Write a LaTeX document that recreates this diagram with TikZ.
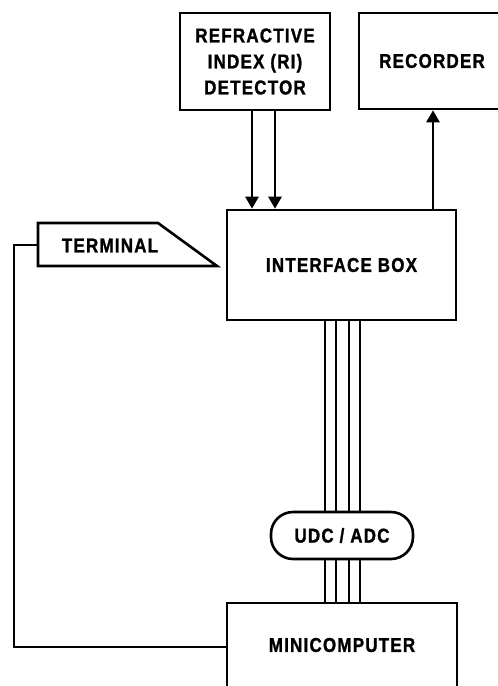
\documentclass[tikz,border=0pt]{standalone}
\usepackage{fontspec}
\newfontfamily\lab{Liberation Sans}[FakeStretch=0.85,LetterSpace=6,FakeBold=1.2]
\usetikzlibrary{arrows.meta}
\tikzset{
  blk/.style={draw, line width=2.6pt, inner sep=0pt, font=\lab\bfseries\fontsize{20}{26}\selectfont, align=center},
  lbl/.style={inner sep=0pt, font=\lab\bfseries\fontsize{20}{26}\selectfont, align=center},
  wire/.style={line width=2.6pt},
  bus/.style={line width=2.2pt},
  arr/.style={line width=2.6pt, -{Triangle[width=13pt,length=12pt]}}
}
\begin{document}
\begin{tikzpicture}[x=1pt,y=-1pt]
\useasboundingbox (0,0) rectangle (498,686);
\clip (0,0) rectangle (498,686);
% blocks
\node[blk, minimum width=150pt, minimum height=97pt] (det) at (255,61.5) {REFRACTIVE\\INDEX (RI)\\DETECTOR};
\node[blk, minimum width=146pt, minimum height=96pt] (rec) at (432,61) {RECORDER};
\node[blk, minimum width=229pt, minimum height=110pt] (inter) at (341.5,265) {INTERFACE BOX};
\node[blk, rounded corners=22pt, minimum width=142pt, minimum height=47pt] (udc) at (342,535.5) {UDC / ADC};
\node[blk, minimum width=230pt, minimum height=100pt, text height=0pt] (mini) at (342,653) {};
\node[lbl] (minit) at (342,645) {MINICOMPUTER};
% terminal
\coordinate (t1) at (38,223);
\coordinate (t2) at (158,223);
\coordinate (t3) at (217,266);
\coordinate (t4) at (38,266);
\draw[wire, line join=miter] (t1) -- (t2) -- (t3) -- (t4) -- cycle;
\node[lbl] (term) at (110,245.5) {TERMINAL};
\coordinate (termL) at (38,245);
% detector arrows
\coordinate (xa) at (252,0);
\coordinate (xb) at (275,0);
\coordinate (xr) at (433,0);
\draw[arr] (xa |- det.south) -- (xa |- inter.north);
\draw[arr] (xb |- det.south) -- (xb |- inter.north);
\draw[arr] (xr |- inter.north) -- (xr |- rec.south);
% bus
\foreach \x/\n in {325/b1,336/b2,349/b3,360/b4}{
  \coordinate (\n) at (\x,0);
  \draw[bus] (\n |- inter.south) -- (\n |- udc.north);
  \draw[bus] (\n |- udc.south) -- (\n |- mini.north);
}
% terminal to minicomputer
\coordinate (lx) at (14,647);
\draw[wire, line join=miter] (termL) -| (lx) -- (mini.west |- lx);
\end{tikzpicture}
\end{document}
